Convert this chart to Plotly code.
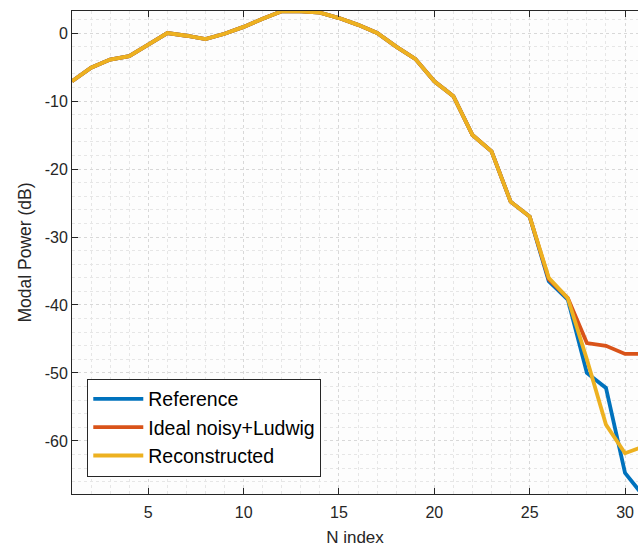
import plotly.graph_objects as go

n_index = list(range(1, 32))
reconstructed = [-7.1, -5.1, -3.9, -3.4, -1.7, 0.0, -0.4, -0.9, -0.1, 0.9,
                 2.1, 3.2, 3.2, 3.0, 2.2, 1.2, 0.0, -2.0, -3.8, -7.1,
                 -9.3, -15.0, -17.4, -24.8, -27.0, -36.0, -39.0, -48.0, -57.6, -61.8, -60.8]
reference = reconstructed[:25] + [-36.5, -39.2, -50.0, -52.2, -64.7, -68.2]
ideal_noisy = reconstructed[:25] + [-36.2, -39.0, -45.6, -46.0, -47.2, -47.2]

x_ticks = [5, 10, 15, 20, 25, 30]
y_ticks = [0, -10, -20, -30, -40, -50, -60]
y_tick_labels = ["0", "-10", "-20", "-30", "-40", "-50", "-60"]

colors = ["#0072BD", "#D95319", "#EDB120"]
names = ["Reference", "Ideal noisy+Ludwig", "Reconstructed"]
series = [reference, ideal_noisy, reconstructed]

fig = go.Figure()
for name, vals, c in zip(names, series, colors):
    fig.add_trace(go.Scatter(x=n_index, y=vals, mode="lines", name=name,
                             line=dict(color=c, width=3.8)))

font = "Liberation Sans, Arial, Helvetica, sans-serif"
fig.update_layout(
    width=638, height=547,
    margin=dict(l=72, r=0, t=11, b=53, autoexpand=False),
    paper_bgcolor="white", plot_bgcolor="#fdfdfd",
    font=dict(family=font, size=16, color="#262626"),
    showlegend=True,
    legend=dict(x=0.027, y=0.036, xanchor="left", yanchor="bottom",
                bgcolor="white", bordercolor="#262626", borderwidth=1,
                font=dict(size=19.5, color="#000000"), tracegroupgap=0,
                itemwidth=50),
)
fig.update_xaxes(
    range=[1, 30.68], tickvals=x_ticks, ticks="inside", ticklen=6,
    tickcolor="#262626", showline=True, linecolor="#262626", linewidth=1,
    mirror="ticks", showgrid=True, gridcolor="#d8d8d8", griddash="dot",
    gridwidth=1, zeroline=False, automargin=False, ticklabelstandoff=4,
    minor=dict(dtick=1, showgrid=True, gridcolor="#e6e6e6", griddash="dot", gridwidth=1),
    title=dict(text="N index", font=dict(size=17, color="#262626"), standoff=10),
    tickfont=dict(size=16, color="#262626"),
)
fig.update_yaxes(
    range=[-67.8, 3.24], tickvals=y_ticks, ticktext=y_tick_labels,
    ticks="inside", ticklen=6, tickcolor="#262626", showline=True,
    linecolor="#262626", linewidth=1, mirror=False, showgrid=True,
    gridcolor="#d8d8d8", griddash="dot", gridwidth=1, zeroline=False,
    automargin=False,
    minor=dict(dtick=2, showgrid=True, gridcolor="#e6e6e6", griddash="dot", gridwidth=1),
    title=dict(text="Modal Power (dB)", font=dict(size=17.5, color="#262626"), standoff=8),
    tickfont=dict(size=16, color="#262626"),
)

fig.write_html(
    "out.html",
    config={"displayModeBar": False},
    post_script="document.body.style.margin='0';document.body.style.overflow='hidden';",
)
